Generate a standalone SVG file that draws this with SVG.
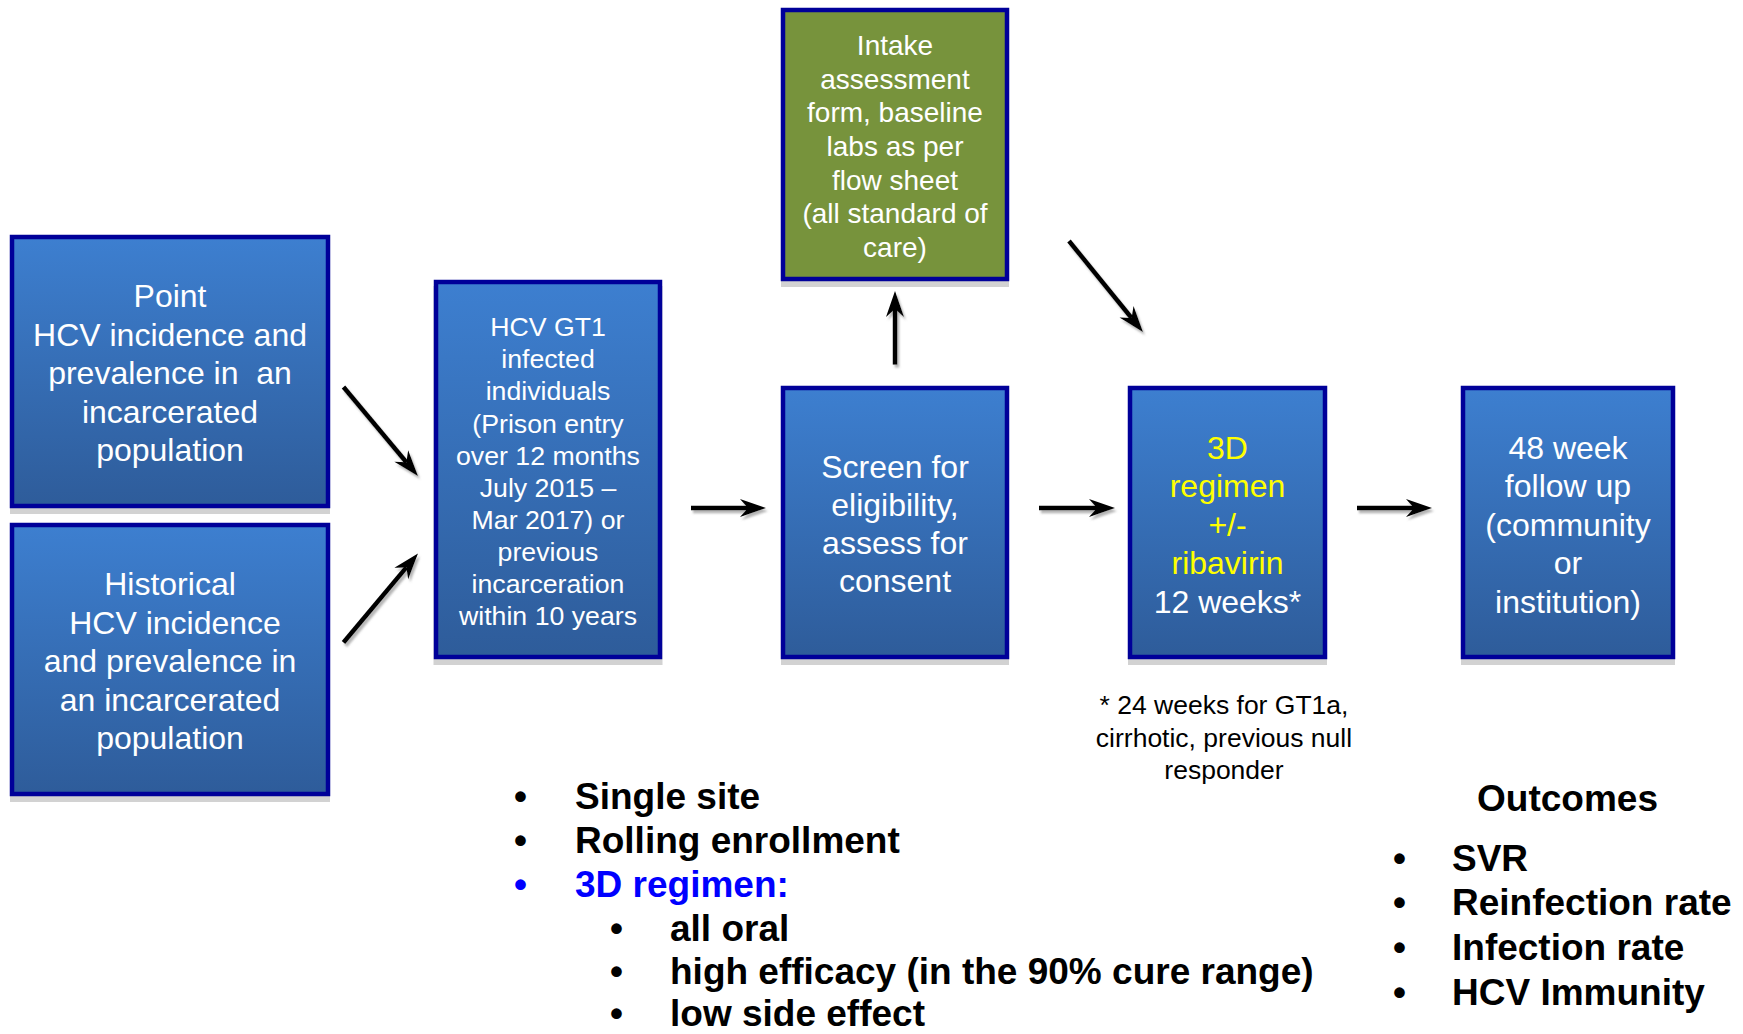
<svg xmlns="http://www.w3.org/2000/svg" width="1743" height="1034" viewBox="0 0 1743 1034">
<defs>
<linearGradient id="gb" x1="0" y1="0" x2="0" y2="1">
<stop offset="0" stop-color="#3D7FD0"/>
<stop offset="1" stop-color="#2E5C9A"/>
</linearGradient>
<marker id="ah" markerUnits="userSpaceOnUse" markerWidth="30" markerHeight="20" viewBox="-10 -10 30 20" refX="0" refY="0" orient="auto">
<path d="M18,0 L-8,-9 L0,0 L-8,9 Z" fill="#000"/>
</marker>
<filter id="sh" x="-20%" y="-20%" width="140%" height="140%">
<feDropShadow dx="2" dy="3" stdDeviation="1.2" flood-color="#777" flood-opacity="0.55"/>
</filter>
</defs>
<style>
.box{fill:url(#gb);stroke:#000099;stroke-width:4.5}
.green{fill:#77933C;stroke:#000099;stroke-width:4.5}
.shd{fill:#d2d2d2}
.t{font-family:"Liberation Sans",Arial,sans-serif;fill:#fff;text-anchor:middle}
.y{fill:#FFFF00}
.n{font-family:"Liberation Sans",Arial,sans-serif;fill:#000;text-anchor:middle;font-size:26.5px}
.b{font-family:"Liberation Sans",Arial,sans-serif;font-weight:bold;font-size:37px;fill:#000}
.blue{fill:#0000FF}
.c{stroke:#000;stroke-width:4.5;fill:none;marker-end:url(#ah)}
</style>
<rect width="1743" height="1034" fill="#fff"/>

<g id="point">
<rect class="shd" x="10" y="240" width="320" height="274"/>
<rect class="box" x="12" y="237" width="316" height="269"/>
<text class="t" font-size="32" xml:space="preserve"><tspan x="170" y="307">Point</tspan><tspan x="170" y="345.5">HCV incidence and</tspan><tspan x="170" y="384">prevalence in  an</tspan><tspan x="170" y="422.5">incarcerated</tspan><tspan x="170" y="461">population</tspan></text>
</g>

<g id="historical">
<rect class="shd" x="10" y="528" width="320" height="274"/>
<rect class="box" x="12" y="525" width="316" height="269"/>
<text class="t" font-size="32"><tspan x="170" y="595">Historical</tspan><tspan x="175" y="633.5">HCV incidence</tspan><tspan x="170" y="672">and prevalence in</tspan><tspan x="170" y="710.5">an incarcerated</tspan><tspan x="170" y="749">population</tspan></text>
</g>

<g id="gt1">
<rect class="shd" x="433.5" y="286" width="229" height="379"/>
<rect class="box" x="436" y="282" width="224" height="375"/>
<text class="t" font-size="26.7"><tspan x="548" y="336">HCV GT1</tspan><tspan x="548" y="368">infected</tspan><tspan x="548" y="400">individuals</tspan><tspan x="548" y="432.5">(Prison entry</tspan><tspan x="548" y="464.5">over 12 months</tspan><tspan x="548" y="496.5">July 2015 –</tspan><tspan x="548" y="528.5">Mar 2017) or</tspan><tspan x="548" y="561">previous</tspan><tspan x="548" y="593">incarceration</tspan><tspan x="548" y="625">within 10 years</tspan></text>
</g>

<g id="intake">
<rect class="shd" x="781" y="14" width="228" height="273"/>
<rect class="green" x="783" y="10" width="224" height="269"/>
<text class="t" font-size="28"><tspan x="895" y="54.5">Intake</tspan><tspan x="895" y="88.5">assessment</tspan><tspan x="895" y="122">form, baseline</tspan><tspan x="895" y="155.5">labs as per</tspan><tspan x="895" y="189.5">flow sheet</tspan><tspan x="895" y="223">(all standard of</tspan><tspan x="895" y="257">care)</tspan></text>
</g>

<g id="screen">
<rect class="shd" x="781" y="392" width="228" height="273"/>
<rect class="box" x="783" y="388" width="224" height="269"/>
<text class="t" font-size="32"><tspan x="895" y="477.5">Screen for</tspan><tspan x="895" y="516">eligibility,</tspan><tspan x="895" y="554">assess for</tspan><tspan x="895" y="592">consent</tspan></text>
</g>

<g id="regimen">
<rect class="shd" x="1128" y="392" width="199" height="273"/>
<rect class="box" x="1130" y="388" width="195" height="269"/>
<text class="t" font-size="32"><tspan class="y" x="1227.5" y="458.5">3D</tspan><tspan class="y" x="1227.5" y="497">regimen</tspan><tspan class="y" x="1227.5" y="535.5">+/-</tspan><tspan class="y" x="1227.5" y="574">ribavirin</tspan><tspan x="1227.5" y="612.5">12 weeks*</tspan></text>
</g>

<g id="followup">
<rect class="shd" x="1461" y="392" width="214" height="273"/>
<rect class="box" x="1463" y="388" width="210" height="269"/>
<text class="t" font-size="32"><tspan x="1568" y="458.5">48 week</tspan><tspan x="1568" y="497">follow up</tspan><tspan x="1568" y="535.5">(community</tspan><tspan x="1568" y="574">or</tspan><tspan x="1568" y="612.5">institution)</tspan></text>
</g>

<g id="footnote">
<text class="n"><tspan x="1224" y="714">* 24 weeks for GT1a,</tspan><tspan x="1224" y="746.5">cirrhotic, previous null</tspan><tspan x="1224" y="779">responder</tspan></text>
</g>

<g id="design-list">
<text class="b"><tspan x="514" y="809">•</tspan><tspan x="575" y="809">Single site</tspan></text>
<text class="b"><tspan x="514" y="853">•</tspan><tspan x="575" y="853">Rolling enrollment</tspan></text>
<text class="b blue"><tspan x="514" y="897">•</tspan><tspan x="575" y="897">3D regimen:</tspan></text>
<text class="b"><tspan x="610" y="941">•</tspan><tspan x="670" y="941">all oral</tspan></text>
<text class="b"><tspan x="610" y="984">•</tspan><tspan x="670" y="984">high efficacy (in the 90% cure range)</tspan></text>
<text class="b"><tspan x="610" y="1026">•</tspan><tspan x="670" y="1026">low side effect</tspan></text>
</g>

<g id="outcomes">
<text class="b" x="1567.5" y="811" text-anchor="middle">Outcomes</text>
<text class="b"><tspan x="1393" y="870.5">•</tspan><tspan x="1452" y="870.5">SVR</tspan></text>
<text class="b"><tspan x="1393" y="915">•</tspan><tspan x="1452" y="915">Reinfection rate</tspan></text>
<text class="b"><tspan x="1393" y="960">•</tspan><tspan x="1452" y="960">Infection rate</tspan></text>
<text class="b"><tspan x="1393" y="1005">•</tspan><tspan x="1452" y="1005">HCV Immunity</tspan></text>
</g>

<g id="connectors" filter="url(#sh)">
<line class="c" x1="343.5" y1="387" x2="406.4" y2="462.2"/>
<line class="c" x1="343.5" y1="642.5" x2="406.4" y2="567.4"/>
<line class="c" x1="691" y1="508" x2="748" y2="508"/>
<line class="c" x1="895" y1="364.6" x2="895" y2="309"/>
<line class="c" x1="1069" y1="241" x2="1131.6" y2="318"/>
<line class="c" x1="1039" y1="508" x2="1097" y2="508"/>
<line class="c" x1="1357" y1="508" x2="1414" y2="508"/>
</g>
</svg>
